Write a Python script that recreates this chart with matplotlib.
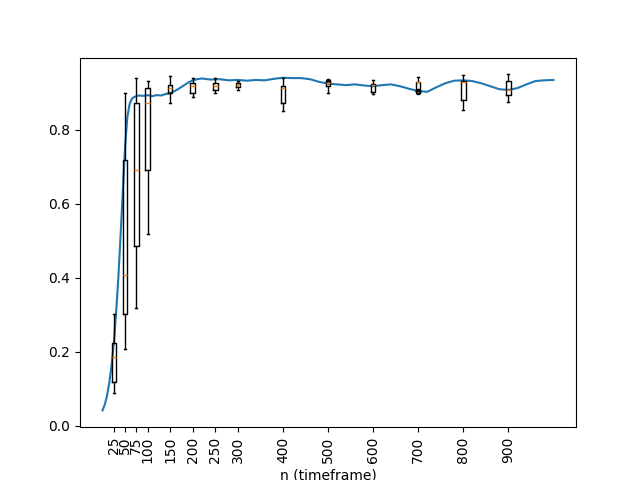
import matplotlib
matplotlib.use("Agg")
import matplotlib.pyplot as plt

# running curve
n_line = [0, 5, 10, 15, 20, 25, 30, 35, 40, 45, 50, 55, 60, 65, 70, 80, 90,
          100, 110, 120, 130, 140, 150, 160, 170, 180, 190, 200, 210, 220,
          240, 260, 280, 300, 320, 340, 360, 380, 400, 420, 440, 460, 480,
          500, 520, 540, 560, 580, 600, 620, 640, 660, 680, 700, 720, 740,
          760, 780, 800, 820, 840, 860, 880, 900, 920, 940, 960, 980, 1000]
acc_line = [0.042, 0.058, 0.082, 0.117, 0.163, 0.225, 0.305, 0.40, 0.515, 0.635,
            0.755, 0.835, 0.870, 0.884, 0.889, 0.893, 0.892, 0.894, 0.891,
            0.894, 0.893, 0.897, 0.900, 0.905, 0.912, 0.920, 0.928, 0.934,
            0.937, 0.939, 0.936, 0.937, 0.934, 0.935, 0.933, 0.935, 0.934,
            0.938, 0.941, 0.940, 0.940, 0.937, 0.930, 0.925, 0.923, 0.921,
            0.923, 0.920, 0.918, 0.921, 0.923, 0.918, 0.911, 0.905, 0.903,
            0.915, 0.926, 0.933, 0.934, 0.932, 0.926, 0.918, 0.910, 0.908,
            0.913, 0.923, 0.932, 0.934, 0.935]

# boxplot summaries per timeframe
positions = [25, 50, 75, 100, 150, 200, 250, 300, 400, 500, 600, 700, 800, 900]
whislo = [0.088, 0.209, 0.320, 0.519, 0.874, 0.888, 0.899, 0.909, 0.852, 0.899, 0.897, 0.905, 0.854, 0.876]
q1 = [0.118, 0.303, 0.487, 0.692, 0.900, 0.899, 0.909, 0.915, 0.874, 0.918, 0.903, 0.905, 0.882, 0.894]
med = [0.185, 0.407, 0.692, 0.874, 0.912, 0.918, 0.920, 0.921, 0.912, 0.926, 0.921, 0.930, 0.929, 0.909]
q3 = [0.223, 0.719, 0.874, 0.914, 0.921, 0.927, 0.926, 0.926, 0.919, 0.932, 0.923, 0.930, 0.932, 0.932]
whishi = [0.303, 0.901, 0.939, 0.933, 0.945, 0.939, 0.939, 0.932, 0.939, 0.936, 0.934, 0.943, 0.948, 0.950]
fliers = [[], [], [], [], [], [], [], [], [], [0.933], [], [0.903, 0.904], [], []]

stats = []
for i, p in enumerate(positions):
    stats.append({
        "label": str(p),
        "whislo": whislo[i],
        "q1": q1[i],
        "med": med[i],
        "q3": q3[i],
        "whishi": whishi[i],
        "fliers": fliers[i],
    })

fig, ax = plt.subplots(figsize=(6.4, 4.8), dpi=100)
ax.plot(n_line, acc_line)
ax.bxp(stats, positions=positions, widths=10,
       flierprops=dict(markersize=3))
ax.set_xticks(positions)
ax.set_xticklabels([str(p) for p in positions], rotation=90)
ax.set_xlim(-50, 1050)
ax.set_xlabel("n (timeframe)")

fig.savefig("out.png")
